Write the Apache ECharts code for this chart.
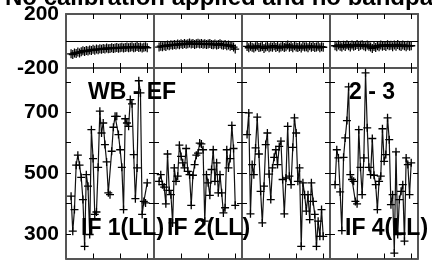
<!DOCTYPE html>
<html><head><meta charset="utf-8">
<script src="https://cdn.jsdelivr.net/npm/echarts@6/dist/echarts.min.js"></script>
<style>html,body{margin:0;padding:0;background:#fff;}#c{width:432px;height:260px;}</style>
</head><body><div id="c"></div>
<script>
const titleText = 'No calibration applied and no bandpass';
const channels = [3,4,5,6,7,8,9,10,11,12,13,14,15,16,17,18,19,20,21,22,23,24,25,26,27,28,29,30,31,32,33,34,35,36,37,38,39,40,41,42,43,44,45,46,47,48];
const channelTicks = [16, 32, 48];
const ampTicks = [300, 400, 500, 600, 700, 800];
const ampTickLabels = [300, 500, 700];
const phaseTickLabels = [-200, 200];
const ifLabels = ['IF 1(LL)', 'IF 2(LL)', '', 'IF 4(LL)'];
const baselineLabels = ['WB - EF', '', '', '2 - 3'];

const amp1 = [424,309,380,526,559,526,486,413,259,495,457,298,643,548,364,372,519,704,632,665,594,537,435,429,572,651,687,687,627,577,519,380,679,665,654,742,728,561,416,517,804,764,364,407,402,468];
const amp2 = [473,495,462,454,399,563,443,429,336,517,473,490,592,555,534,517,581,506,495,394,493,528,559,566,599,596,577,342,495,468,427,512,577,473,534,435,495,435,369,386,577,517,548,657,581,394];
const amp3 = [627,698,366,528,495,583,684,563,440,336,457,594,632,497,413,517,552,577,528,588,605,479,366,484,654,490,462,585,682,632,473,517,259,468,429,375,429,347,468,407,364,259,342,292,380,292];
const amp4 = [462,577,550,438,311,552,616,673,784,495,479,473,407,399,643,519,429,550,830,649,519,495,614,493,462,380,473,490,646,539,561,682,610,396,429,237,570,298,413,440,462,276,550,528,429,534];

const phase1 = [-95,-100,-88,-92,-82,-88,-80,-72,-78,-70,-74,-66,-70,-62,-68,-60,-64,-58,-62,-55,-60,-52,-58,-55,-50,-56,-52,-48,-54,-50,-46,-52,-48,-44,-50,-46,-42,-50,-46,-40,-48,-44,-52,-46,-42,-50];
const phase2 = [-45,-38,-42,-35,-40,-30,-36,-28,-32,-25,-30,-22,-28,-20,-26,-18,-24,-20,-15,-22,-18,-25,-20,-16,-22,-18,-24,-20,-26,-22,-18,-25,-28,-22,-30,-26,-20,-28,-32,-25,-35,-30,-38,-34,-45,-60];
const phase3 = [-40,-50,-38,-46,-52,-42,-36,-48,-44,-40,-55,-45,-38,-50,-42,-46,-35,-48,-40,-52,-44,-38,-48,-42,-30,-46,-40,-50,-36,-44,-48,-40,-52,-38,-45,-42,-50,-36,-46,-40,-48,-44,-38,-50,-42,-46];
const phase4 = [-35,-42,-30,-38,-45,-32,-40,-28,-36,-44,-30,-38,-34,-25,-40,-32,-28,-36,-42,-30,-38,-45,-55,-40,-48,-35,-42,-30,-38,-34,-40,-28,-36,-32,-42,-30,-38,-26,-35,-40,-30,-36,-42,-32,-38,-35];

const ampSeries = [amp1, amp2, amp3, amp4];
const phaseSeries = [phase1, phase2, phase3, phase4];

const FONT = '"Liberation Sans", Arial, sans-serif';
const panelLeft = [66, 154, 242, 330];
const panelW = 88;
const frame = {show: true, onZero: false, lineStyle: {color: '#555', width: 2}};
const plusSym = 'path://M0,5H10M5,0V10';

const grids = [], xAxes = [], yAxes = [], series = [];

function addPanel(p, top, height, yMin, yMax, yTickVals, leftLabel, data, zeroLine, symSize) {
  const g = grids.length;
  grids.push({left: panelLeft[p], top: top, width: panelW, height: height, containLabel: false});
  ['bottom', 'top'].forEach(pos => {
    xAxes.push({gridIndex: g, type: 'value', min: 0, max: 52, position: pos,
      axisLine: frame,
      axisTick: {show: true, inside: true, length: 5, customValues: channelTicks, lineStyle: {color: '#000', width: 1}},
      axisLabel: {show: false}, splitLine: {show: false}});
  });
  ['left', 'right'].forEach(pos => {
    const ax = {gridIndex: g, type: 'value', min: yMin, max: yMax, position: pos,
      axisLine: frame,
      axisTick: {show: yTickVals.length > 0, inside: true, length: 5, customValues: yTickVals.length ? yTickVals : undefined, lineStyle: {color: '#000', width: 1}},
      axisLabel: {show: false}, splitLine: {show: false}};
    if (pos === 'left' && leftLabel) ax.axisLabel = leftLabel;
    yAxes.push(ax);
  });
  const s = {type: 'line', xAxisIndex: 2 * g, yAxisIndex: 2 * g,
    data: channels.map((c, i) => [c, data[i]]),
    symbol: plusSym, symbolSize: symSize, showSymbol: true, showAllSymbol: true,
    lineStyle: {color: '#111', width: 1.2},
    itemStyle: {color: '#000', borderColor: '#000', borderWidth: 1.3},
    emphasis: {disabled: true}, animation: false, z: 3};
  if (zeroLine) {
    s.markLine = {silent: true, symbol: 'none', label: {show: false},
      lineStyle: {color: '#000', width: 1, type: 'solid'}, data: [{yAxis: 0}], animation: false};
  }
  series.push(s);
}

const labelBase = {show: true, color: '#000', fontSize: 21, fontWeight: 'bold', fontFamily: FONT, margin: 7, showMinLabel: true, showMaxLabel: true};

for (let p = 0; p < 4; p++) {
  addPanel(p, 14, 54, -200, 200, [], p === 0 ? Object.assign({}, labelBase, {customValues: phaseTickLabels}) : null, phaseSeries[p], true, [8, 9]);
}
for (let p = 0; p < 4; p++) {
  addPanel(p, 68, 190.5, 219, 846, ampTicks, p === 0 ? Object.assign({}, labelBase, {customValues: ampTickLabels}) : null, ampSeries[p], false, 8);
}

const labelFont = {fontSize: 23, fontWeight: 'bold', fontFamily: FONT, fill: '#000', align: 'left', verticalAlign: 'middle'};
const blPos = [[88, 93], null, null, [349, 93]];
const ifPos = [[81, 229], [167, 229], null, [345, 229]];
const graphics = [{type: 'text', x: 5, y: -2, z: 10, style: Object.assign({}, labelFont, {text: titleText, fontSize: 24})}];
for (let p = 0; p < 4; p++) {
  if (baselineLabels[p]) graphics.push({type: 'text', x: blPos[p][0], y: blPos[p][1], z: 10, style: Object.assign({}, labelFont, {text: baselineLabels[p]})});
  if (ifLabels[p]) graphics.push({type: 'text', x: ifPos[p][0], y: ifPos[p][1], z: 10, style: Object.assign({}, labelFont, {text: ifLabels[p]})});
}

const chart = echarts.init(document.getElementById('c'), null, {renderer: 'canvas', width: 432, height: 260});
chart.setOption({
  animation: false,
  backgroundColor: '#fff',
  grid: grids, xAxis: xAxes, yAxis: yAxes, series: series,
  graphic: graphics
});
</script></body></html>
